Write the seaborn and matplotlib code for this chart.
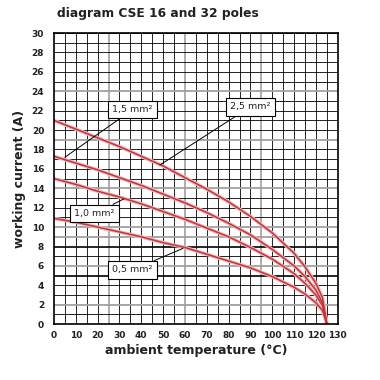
import numpy as np
import pandas as pd
import seaborn as sns
import matplotlib.pyplot as plt

# values (ambient temperature in degC, current in A)
temp = [0, 10, 20, 30, 40, 50, 60, 70, 80, 90, 100, 110, 115, 120, 123, 125]
i_25 = [21.0, 20.1, 19.2, 18.3, 17.3, 16.3, 15.1, 13.9, 12.6, 11.1, 9.4, 7.3, 5.9, 4.2, 2.7, 0.0]
i_15 = [17.3, 16.6, 15.9, 15.1, 14.3, 13.4, 12.5, 11.5, 10.4, 9.2, 7.7, 6.0, 4.9, 3.5, 2.2, 0.0]
i_10 = [15.0, 14.4, 13.7, 13.1, 12.4, 11.6, 10.8, 9.9, 9.0, 7.9, 6.7, 5.2, 4.2, 3.0, 1.9, 0.0]
i_05 = [10.9, 10.5, 10.0, 9.5, 9.0, 8.4, 7.9, 7.2, 6.5, 5.8, 4.9, 3.8, 3.1, 2.2, 1.4, 0.0]
sections = ["2,5 mm²", "1,5 mm²", "1,0 mm²", "0,5 mm²"]

x_ticks = list(range(0, 131, 10))
y_ticks = list(range(0, 31, 2))

rows = []
for name, vals in zip(sections, [i_25, i_15, i_10, i_05]):
    for t, v in zip(temp, vals):
        rows.append({"temp": t, "current": v, "section": name})
df = pd.DataFrame(rows)

sns.set_style("white")
plt.rcParams['font.family'] = ['DejaVu Sans']

fig = plt.figure(figsize=(3.8, 3.8), dpi=100)
ax = fig.add_axes([0.142, 0.147, 0.747, 0.766])

# grid: every 5 degC and every 1 A, some lines heavier / grey like the original
for xv in range(5, 130, 5):
    if xv in (25, 60, 95):
        ax.axvline(xv, color="#a0a0a0", lw=1.2, zorder=0)
    else:
        ax.axvline(xv, color="black", lw=0.6, zorder=0)
for yv in range(1, 31):
    if yv in (8, 5):
        ax.axhline(yv, color="black", lw=1.2, zorder=0)
    elif yv in (2, 6, 9, 10, 14, 19, 24):
        ax.axhline(yv, color="#a0a0a0", lw=1.3, zorder=0)
    else:
        ax.axhline(yv, color="black", lw=0.6, zorder=0)

# soft glow under the curves
sns.lineplot(data=df, x="temp", y="current", hue="section", units="section",
             estimator=None, palette=["#f2b8b8"] * 4, lw=2.6, legend=False, ax=ax)
sns.lineplot(data=df, x="temp", y="current", hue="section", units="section",
             estimator=None, palette=["#c4343a"] * 4, lw=1.1, legend=False, ax=ax)

ax.set_xlim(0, 130)
ax.set_ylim(0, 30)
ax.set_xticks(x_ticks)
ax.set_yticks(y_ticks)
ax.set_xticklabels([str(v) for v in x_ticks], fontsize=6.5, fontweight="bold", color="#222222")
ax.set_yticklabels([str(v) for v in y_ticks], fontsize=6.5, fontweight="bold", color="#222222")
ax.tick_params(axis="y", length=5, width=1, color="black", pad=2, direction="out")
ax.tick_params(axis="x", length=3, width=1, color="black", pad=2, direction="out")
for s in ax.spines.values():
    s.set_color("black")
    s.set_linewidth(1.2)

ax.set_xlabel("ambient temperature (°C)", fontsize=9, fontweight="bold", color="#222222", labelpad=3)
ax.set_ylabel("working current (A)", fontsize=9, fontweight="bold", color="#222222", labelpad=4)
fig.text(0.15, 0.955, "diagram CSE 16 and 32 poles", fontsize=8.8, fontweight="bold", color="#222222")

# labels with leader lines
box = dict(boxstyle="square,pad=0.45", fc="white", ec="black", lw=0.8)
arrow = dict(arrowstyle="-", color="black", lw=0.7, shrinkA=0, shrinkB=0)
ann = [("1,5 mm²", (5, 17.2), (36, 22.1)),
       ("2,5 mm²", (48.5, 16.4), (90, 22.4)),
       ("1,0 mm²", (32, 12.9), (18.5, 11.4)),
       ("0,5 mm²", (59, 7.8), (36, 5.6))]
for txt, xy, xyt in ann:
    ax.annotate(txt, xy=xy, xytext=xyt, fontsize=6.8, color="#222222",
                ha="center", va="center", bbox=box, arrowprops=arrow, zorder=5)

fig.savefig("out.png", dpi=100, facecolor="white")
